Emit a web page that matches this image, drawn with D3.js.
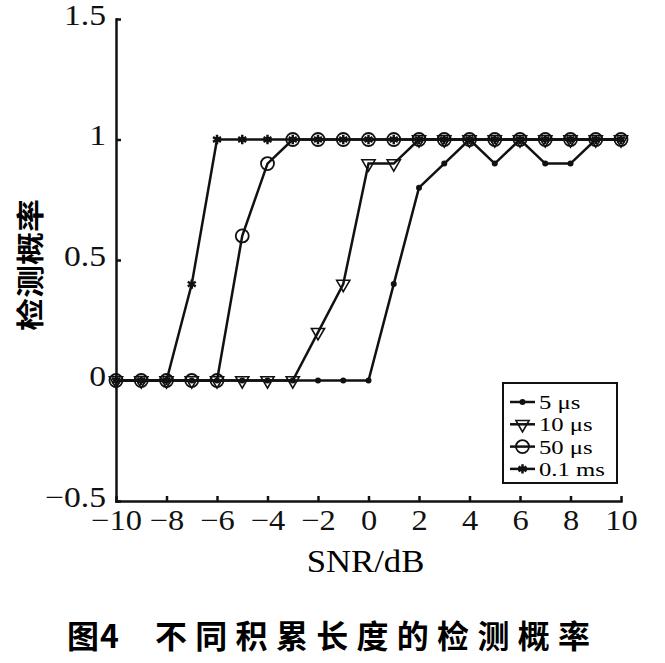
<!DOCTYPE html>
<html lang="zh">
<head>
    <meta charset="UTF-8">
    <title>检测概率</title>
    <script src="https://d3js.org/d3.v7.min.js"></script>
    <style>
        body {
            margin: 0;
            background: #fff;
        }
        svg {
            display: block;
        }
        .axis path, .axis line {
            stroke: #111;
            stroke-width: 2.5px;
        }
        .axis text {
            font-family: 'Liberation Serif', serif;
            font-size: 29px;
            fill: #111;
        }
        .curve {
            fill: none;
            stroke: #111;
            stroke-width: 2.5px;
        }
    </style>
</head>
<body>
    <svg width="665" height="663"></svg>

    <script>
        // SNR (dB) on the x axis
        const snr = [-10, -9, -8, -7, -6, -5, -4, -3, -2, -1, 0, 1, 2, 3, 4, 5, 6, 7, 8, 9, 10];

        // detection probability for each accumulation length
        const p5us  = [0, 0, 0, 0, 0, 0, 0, 0, 0, 0, 0, 0.4, 0.8, 0.9, 1, 0.9, 1, 0.9, 0.9, 1, 1];
        const p10us = [0, 0, 0, 0, 0, 0, 0, 0, 0.2, 0.4, 0.9, 0.9, 1, 1, 1, 1, 1, 1, 1, 1, 1];
        const p50us = [0, 0, 0, 0, 0, 0.6, 0.9, 1, 1, 1, 1, 1, 1, 1, 1, 1, 1, 1, 1, 1, 1];
        const p01ms = [0, 0, 0, 0.4, 1, 1, 1, 1, 1, 1, 1, 1, 1, 1, 1, 1, 1, 1, 1, 1, 1];

        const seriesNames = ["5 μs", "10 μs", "50 μs", "0.1 ms"];
        const xTicks = [-10, -8, -6, -4, -2, 0, 2, 4, 6, 8, 10];
        const yTicks = [-0.5, 0, 0.5, 1, 1.5];

        const svg = d3.select("svg");

        const x = d3.scaleLinear().domain([-10, 10]).range([116, 621]);
        const y = d3.scaleLinear().domain([-0.5, 1.5]).range([501, 19]);

        // axes: left and bottom only, ticks pointing inward
        const yAxis = svg.append("g")
            .attr("class", "axis")
            .attr("transform", `translate(${x(-10)},0)`)
            .call(d3.axisLeft(y).tickValues(yTicks).tickSize(-5).tickSizeOuter(0)
                .tickPadding(10).tickFormat(d3.format("")));
        // the scan is a bit wide, stretch the numbers sideways
        yAxis.selectAll("text")
            .attr("transform", "scale(1.16,1)")
            .attr("x", -10 / 1.16)
            .attr("y", -4);

        const xAxis = svg.append("g")
            .attr("class", "axis")
            .attr("transform", `translate(0,${y(-0.5)})`)
            .call(d3.axisBottom(x).tickValues(xTicks).tickSize(-5).tickSizeOuter(0)
                .tickPadding(8).tickFormat(d3.format("")));
        xAxis.selectAll("text").attr("transform", "scale(1.12,1)");

        svg.selectAll(".axis .domain").attr("stroke-linecap", "square");

        // axis titles
        svg.append("text")
            .attr("transform", `translate(${x(0) - 3},572) scale(1.12,1)`)
            .attr("text-anchor", "middle")
            .style("font-family", "'Liberation Serif', serif")
            .style("font-size", "31px")
            .text("SNR/dB");

        svg.append("text")
            .attr("transform", "translate(41,265) rotate(-90) scale(1,0.85)")
            .attr("text-anchor", "middle")
            .style("font-family", "'Noto Sans CJK SC', sans-serif")
            .style("font-weight", "bold")
            .style("font-size", "33px")
            .text("检测概率");

        // caption
        svg.append("text")
            .attr("x", 67)
            .attr("y", 648)
            .attr("textLength", 52)
            .attr("lengthAdjust", "spacing")
            .style("font-family", "'Noto Sans CJK SC', sans-serif")
            .style("font-weight", "bold")
            .style("font-size", "32px")
            .text("图4");

        svg.append("text")
            .attr("x", 155)
            .attr("y", 648)
            .attr("textLength", 435)
            .attr("lengthAdjust", "spacing")
            .style("font-family", "'Noto Sans CJK SC', sans-serif")
            .style("font-weight", "bold")
            .style("font-size", "32px")
            .text("不同积累长度的检测概率");

        const line = d3.line()
            .x((d, i) => x(snr[i]))
            .y(d => y(d));

        const asterisk = d3.symbol(d3.symbolAsterisk, 60)();
        const triDown = d3.symbol(d3.symbolTriangle, 75)();

        // marker drawers
        const markers = [
            g => g.append("circle").attr("r", 3).attr("fill", "#111"),
            g => g.append("path").attr("d", triDown).attr("transform", "rotate(180)")
                  .attr("fill", "none").attr("stroke", "#111").attr("stroke-width", 1.6),
            g => g.append("circle").attr("r", 6.5)
                  .attr("fill", "none").attr("stroke", "#111").attr("stroke-width", 1.8),
            g => g.append("path").attr("d", asterisk)
                  .attr("fill", "none").attr("stroke", "#111").attr("stroke-width", 2.5)
        ];

        const allSeries = [p5us, p10us, p50us, p01ms];

        allSeries.forEach((vals, k) => {
            svg.append("path")
                .attr("class", "curve")
                .attr("d", line(vals));

            svg.append("g")
                .selectAll("g")
                .data(vals)
                .join("g")
                .attr("transform", (d, i) => `translate(${x(snr[i])},${y(d)})`)
                .each(function() { markers[k](d3.select(this)); });
        });

        // legend
        const legend = svg.append("g");
        legend.append("rect")
            .attr("x", 503).attr("y", 383)
            .attr("width", 114).attr("height", 100)
            .attr("fill", "#fff")
            .attr("stroke", "#111")
            .attr("stroke-width", 2);

        seriesNames.forEach((name, k) => {
            const ly = 402 + k * 22.3;
            legend.append("line")
                .attr("x1", 510).attr("x2", 535)
                .attr("y1", ly).attr("y2", ly)
                .attr("stroke", "#111").attr("stroke-width", 2.5);
            markers[k](legend.append("g").attr("transform", `translate(522.5,${ly})`));
            legend.append("text")
                .attr("transform", `translate(539,${ly + 7}) scale(1.3,1)`)
                .style("font-family", "'Liberation Serif', serif")
                .style("font-size", "19px")
                .text(name);
        });
    </script>
</body>
</html>
